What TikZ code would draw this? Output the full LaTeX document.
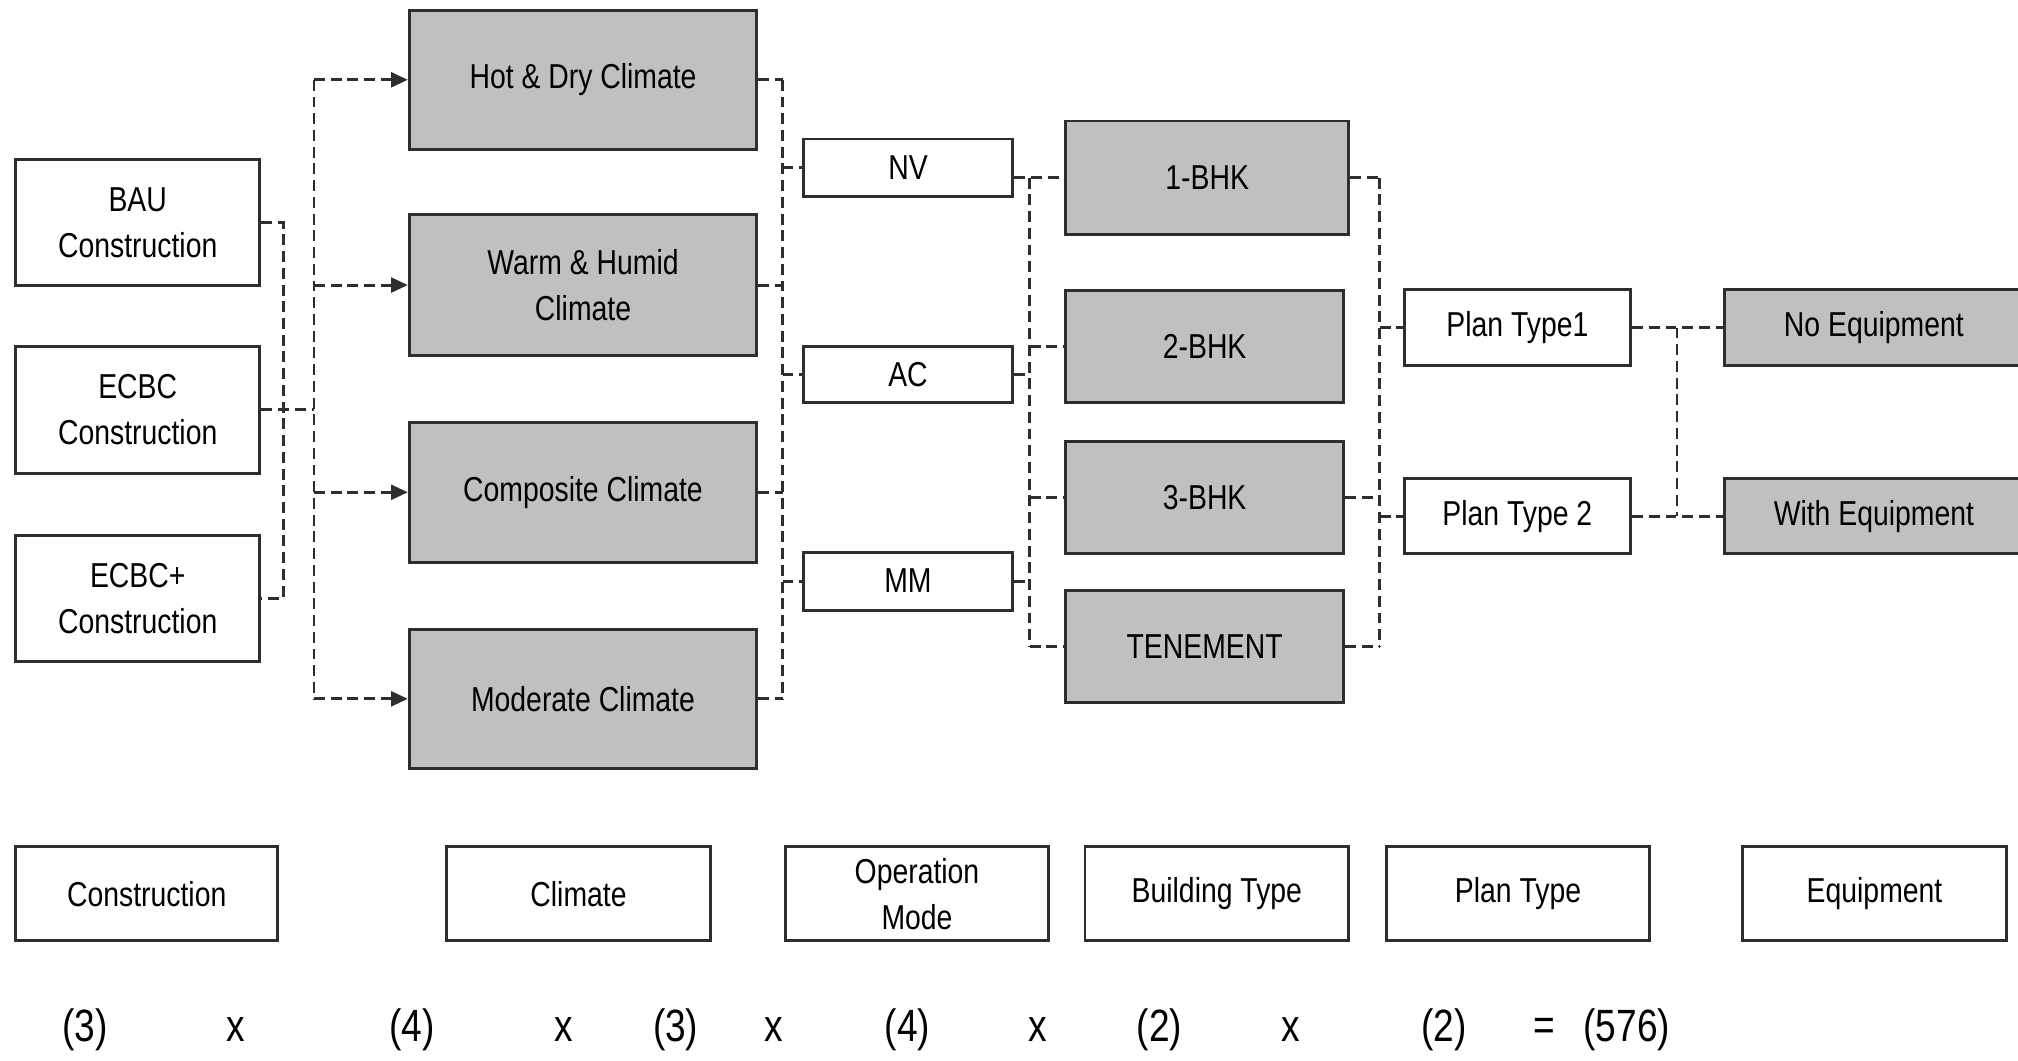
\documentclass[tikz,border=0pt]{standalone}
\usepackage{fontspec}
\setmainfont{Liberation Sans}[FakeStretch=0.82]
\usepackage{tikz}
\usetikzlibrary{arrows.meta, calc}
\definecolor{boxgrey}{HTML}{C0C0C0}
\definecolor{linegrey}{HTML}{2E2E2E}

\begin{document}
\begin{tikzpicture}[x=0.02cm, y=-0.02cm, every node/.style={font=\fontsize{15.3}{20.5}\selectfont, text=black, align=center, inner sep=0pt},
        optbox/.style={draw=linegrey, line width=1.3pt, fill=white},
        greybox/.style={optbox, fill=boxgrey},
        link/.style={draw=linegrey, line width=1.3pt, dash pattern=on 1.7mm off 0.9mm},
        sumtext/.style={font=\fontsize{20}{24}\selectfont}]

                \coordinate (A) at (0, 0);
                \useasboundingbox ($ (A) + (0, 0) $) rectangle ($ (A) + (1568, 824) $);

                % construction
                \node[optbox, minimum width=3.8cm, minimum height=1.96cm] (bau) at ($ (A) + (107, 173) $) {BAU\\Construction};
                \node[optbox, minimum width=3.8cm, minimum height=1.98cm] (ecbc) at ($ (A) + (107, 318.5) $) {ECBC\\Construction};
                \node[optbox, minimum width=3.8cm, minimum height=1.96cm] (ecbcplus) at ($ (A) + (107, 465) $) {ECBC+\\Construction};

                % climate
                \node[greybox, minimum width=5.4cm, minimum height=2.16cm] (hotdry) at ($ (A) + (453, 62) $) {Hot \& Dry Climate};
                \node[greybox, minimum width=5.4cm, minimum height=2.18cm] (warmhumid) at ($ (A) + (453, 221.5) $) {Warm \& Humid\\Climate};
                \node[greybox, minimum width=5.4cm, minimum height=2.18cm] (composite) at ($ (A) + (453, 382.5) $) {Composite Climate};
                \node[greybox, minimum width=5.4cm, minimum height=2.16cm] (moderate) at ($ (A) + (453, 543) $) {Moderate Climate};

                % operation mode
                \node[optbox, minimum width=3.26cm, minimum height=0.9cm] (nv) at ($ (A) + (705.5, 130.5) $) {NV};
                \node[optbox, minimum width=3.26cm, minimum height=0.88cm] (ac) at ($ (A) + (705.5, 291) $) {AC};
                \node[optbox, minimum width=3.26cm, minimum height=0.9cm] (mm) at ($ (A) + (705.5, 451.5) $) {MM};

                % building type
                \node[greybox, minimum width=4.4cm, minimum height=1.76cm] (bhkone) at ($ (A) + (938, 138) $) {1-BHK};
                \node[greybox, minimum width=4.32cm, minimum height=1.74cm] (bhktwo) at ($ (A) + (936, 269.5) $) {2-BHK};
                \node[greybox, minimum width=4.32cm, minimum height=1.74cm] (bhkthree) at ($ (A) + (936, 386.5) $) {3-BHK};
                \node[greybox, minimum width=4.32cm, minimum height=1.74cm] (tenement) at ($ (A) + (936, 502.5) $) {TENEMENT};

                % plan type
                \node[optbox, minimum width=3.52cm, minimum height=1.18cm] (planone) at ($ (A) + (1179, 254.5) $) {Plan Type1};
                \node[optbox, minimum width=3.52cm, minimum height=1.16cm] (plantwo) at ($ (A) + (1179, 401) $) {Plan Type 2};

                % equipment
                \node[greybox, minimum width=4.8cm, minimum height=1.18cm] (noequip) at ($ (A) + (1460, 254.5) $) {};
                \node at ($ (A) + (1456, 254.5) $) {No Equipment};
                \node[greybox, minimum width=4.8cm, minimum height=1.16cm] (withequip) at ($ (A) + (1460, 401) $) {};
                \node at ($ (A) + (1456, 401) $) {With Equipment};

                % trunk lines
                \coordinate (tconst) at ($ (A) + (220, 0) $);
                \coordinate (tclim) at ($ (A) + (244, 0) $);
                \coordinate (top) at ($ (A) + (608, 0) $);
                \coordinate (tbuild) at ($ (A) + (800, 0) $);
                \coordinate (tplan) at ($ (A) + (1072, 0) $);
                \coordinate (tequip) at ($ (A) + (1303, 0) $);

                % construction to climate
                \draw[link] (bau.east) -| (tconst |- ecbcplus.east) -- (ecbcplus.east);
                \draw[link] (ecbc.east) -- (tclim |- ecbc.east);
                \draw[link] (tclim |- hotdry.west) -- (tclim |- moderate.west);
                \draw[link, -{Triangle[length=2.6mm, width=2.3mm]}] (tclim |- hotdry.west) -- (hotdry.west);
                \draw[link, -{Triangle[length=2.6mm, width=2.3mm]}] (tclim |- warmhumid.west) -- (warmhumid.west);
                \draw[link, -{Triangle[length=2.6mm, width=2.3mm]}] (tclim |- composite.west) -- (composite.west);
                \draw[link, -{Triangle[length=2.6mm, width=2.3mm]}] (tclim |- moderate.west) -- (moderate.west);

                % climate to operation mode
                \draw[link] (top |- hotdry.east) -- (top |- moderate.east);
                \draw[link] (hotdry.east) -- (top |- hotdry.east);
                \draw[link] (warmhumid.east) -- (top |- warmhumid.east);
                \draw[link] (composite.east) -- (top |- composite.east);
                \draw[link] (moderate.east) -- (top |- moderate.east);
                \draw[link] (top |- nv.west) -- (nv.west);
                \draw[link] (top |- ac.west) -- (ac.west);
                \draw[link] (top |- mm.west) -- (mm.west);

                % operation mode to building type
                \draw[link] (nv.east |- bhkone.west) -- (bhkone.west);
                \draw[link] (tbuild |- bhkone.west) -- (tbuild |- tenement.west);
                \draw[link] (ac.east) -- (tbuild |- ac.east);
                \draw[link] (mm.east) -- (tbuild |- mm.east);
                \draw[link] (tbuild |- bhktwo.west) -- (bhktwo.west);
                \draw[link] (tbuild |- bhkthree.west) -- (bhkthree.west);
                \draw[link] (tbuild |- tenement.west) -- (tenement.west);

                % building type to plan type
                \draw[link] (tplan |- bhkone.east) -- (tplan |- tenement.east);
                \draw[link] (bhkone.east) -- (tplan |- bhkone.east);
                \draw[link] (bhkthree.east) -- (tplan |- bhkthree.east);
                \draw[link] (tenement.east) -- (tplan |- tenement.east);
                \draw[link] (tplan |- planone.west) -- (planone.west);
                \draw[link] (tplan |- plantwo.west) -- (plantwo.west);

                % plan type to equipment
                \draw[link] (planone.east) -- (planone.east -| noequip.west);
                \draw[link] (plantwo.east) -- (plantwo.east -| withequip.west);
                \draw[link] (tequip |- planone.east) -- (tequip |- plantwo.east);

                % parameter labels
                \node[optbox, minimum width=4.08cm, minimum height=1.46cm] (lconst) at ($ (A) + (114, 694.5) $) {Construction};
                \node[optbox, minimum width=4.1cm, minimum height=1.46cm] (lclim) at ($ (A) + (449.5, 694.5) $) {Climate};
                \node[optbox, minimum width=4.1cm, minimum height=1.46cm] (lop) at ($ (A) + (712.5, 694.5) $) {Operation\\Mode};
                \node[optbox, minimum width=4.1cm, minimum height=1.46cm] (lbuild) at ($ (A) + (945.5, 694.5) $) {Building Type};
                \node[optbox, minimum width=4.1cm, minimum height=1.46cm] (lplan) at ($ (A) + (1179.5, 694.5) $) {Plan Type};
                \node[optbox, minimum width=4.1cm, minimum height=1.46cm] (lequip) at ($ (A) + (1456.5, 694.5) $) {Equipment};

                % number of cases
                \node[sumtext] (nconst) at ($ (A) + (66, 800) $) {(3)};
                \node[sumtext] (xa) at ($ (A) + (183, 800) $) {x};
                \node[sumtext] (nclim) at ($ (A) + (320, 800) $) {(4)};
                \node[sumtext] (xb) at ($ (A) + (438, 800) $) {x};
                \node[sumtext] (nop) at ($ (A) + (525, 800) $) {(3)};
                \node[sumtext] (xc) at ($ (A) + (601, 800) $) {x};
                \node[sumtext] (nbuild) at ($ (A) + (705, 800) $) {(4)};
                \node[sumtext] (xd) at ($ (A) + (806, 800) $) {x};
                \node[sumtext] (nplan) at ($ (A) + (901, 800) $) {(2)};
                \node[sumtext] (xe) at ($ (A) + (1003, 800) $) {x};
                \node[sumtext] (nequip) at ($ (A) + (1122, 800) $) {(2)};
                \node[sumtext] (eq) at ($ (A) + (1200, 800) $) {=};
                \node[sumtext] (ntotal) at ($ (A) + (1264, 800) $) {(576)};

            \end{tikzpicture}
\end{document}
